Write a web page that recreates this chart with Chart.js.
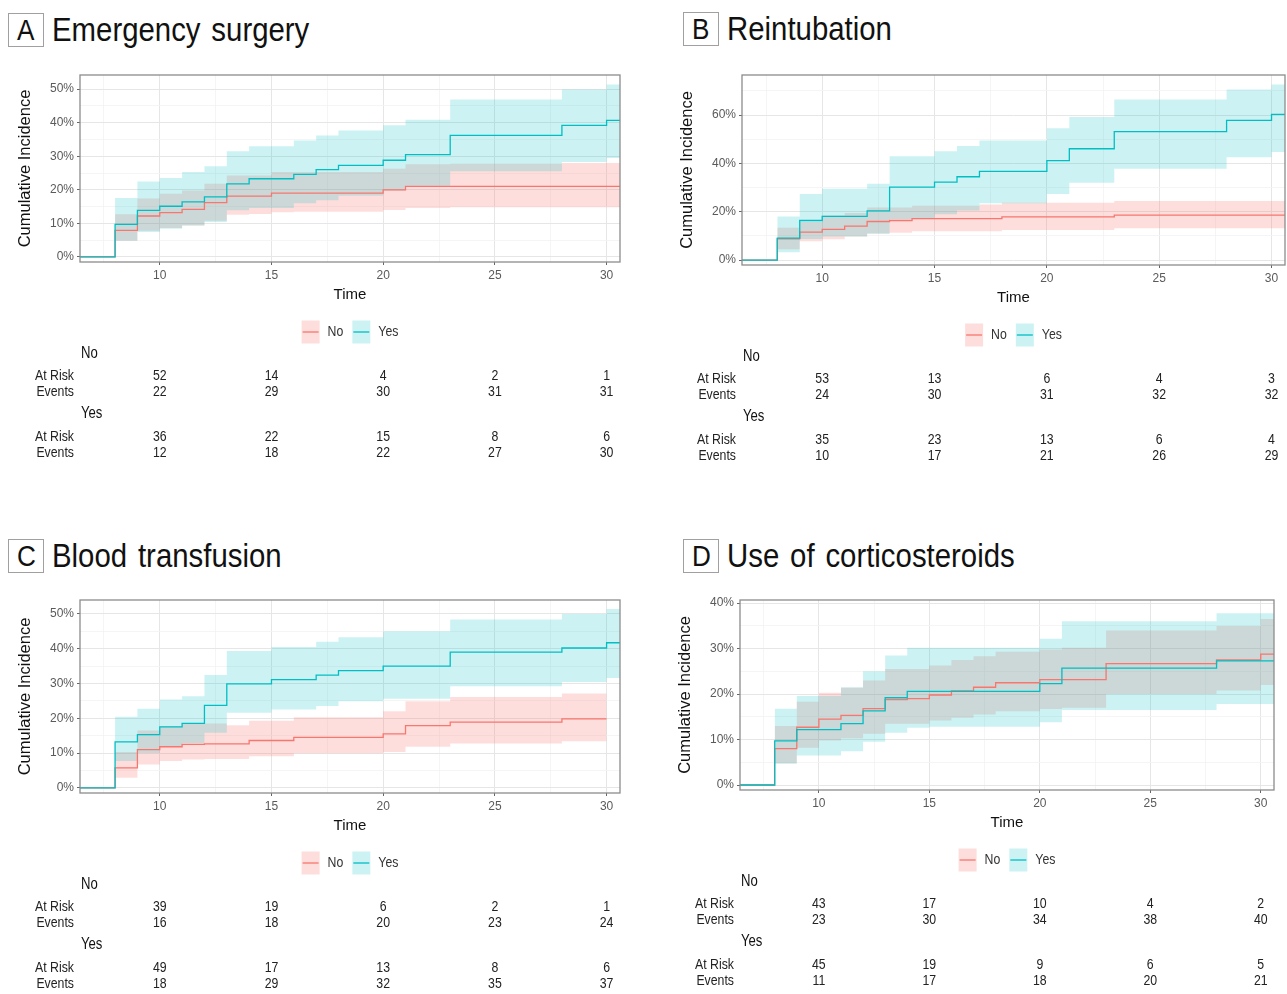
<!DOCTYPE html>
<html>
<head>
<meta charset="utf-8">
<script src="https://cdn.jsdelivr.net/npm/chart.js@4.4.1/dist/chart.umd.min.js"></script>
<style>
  body { margin: 0; background: #fff; width: 1287px; height: 994px; overflow: hidden; position: relative; }
  canvas { position: absolute; }
  .panel-title { position: absolute; display: flex; align-items: center; white-space: pre;
    font-family: 'Liberation Sans', Arial, sans-serif; font-size: 33px; color: #111; }
  .panel-title .tag { box-sizing: border-box; width: 36px; height: 34px; border: 1px solid #a0a0a0;
    display: flex; align-items: center; justify-content: center; margin-right: 8px; font-size: 29px; }
  .panel-title .tag span { display: inline-block; transform: scaleX(0.9); }
  .panel-title .ttl { display: inline-block; transform: scaleX(0.89); transform-origin: left center; word-spacing: 3px; }
</style>
</head>
<body>
<div class="panel-title" style="left:8px;top:11px"><span class="tag"><span>A</span></span><span class="ttl">Emergency surgery</span></div>
<div class="panel-title" style="left:683px;top:10px"><span class="tag"><span>B</span></span><span class="ttl">Reintubation</span></div>
<div class="panel-title" style="left:8px;top:537px"><span class="tag"><span>C</span></span><span class="ttl">Blood transfusion</span></div>
<div class="panel-title" style="left:683px;top:537px"><span class="tag"><span>D</span></span><span class="ttl">Use of corticosteroids</span></div>

<script>
// Event times shared by all curves (values hold until the next time)
const eventTimes = [8, 9, 10, 11, 12, 13, 14, 15, 16, 17, 18, 20, 21, 23, 28, 30];
const riskTimes = [10, 15, 20, 25, 30];
const xMajorTicks = [10, 15, 20, 25, 30];

// A - Emergency surgery (cumulative incidence, %)
const emergNoLine   = [7.9, 12.2, 13.2, 14.2, 16.2, 18.1, 18.1, 19.0, 19.0, 19.0, 19.0, 20.0, 21.0, 21.0, 21.0, 21.0];
const emergNoUpper  = [12.7, 17.4, 18.8, 19.8, 21.8, 24.3, 24.3, 25.3, 25.3, 25.3, 25.3, 26.3, 27.6, 27.8, 28.0, 28.0];
const emergNoLower  = [4.8, 7.8, 8.6, 9.4, 10.8, 12.6, 12.8, 13.3, 13.5, 13.5, 13.5, 14.0, 14.6, 14.8, 14.8, 14.8];
const emergYesLine  = [9.7, 13.9, 15.1, 16.4, 17.9, 21.8, 23.3, 23.3, 24.6, 26.0, 27.3, 28.8, 30.5, 36.2, 39.2, 40.7];
const emergYesUpper = [17.6, 22.5, 23.5, 25.3, 27.0, 31.5, 33.0, 33.0, 34.7, 36.2, 37.7, 39.2, 40.9, 46.9, 49.9, 51.4];
const emergYesLower = [4.8, 7.4, 8.4, 9.4, 10.4, 13.9, 14.6, 14.6, 16.0, 16.9, 18.2, 19.8, 21.2, 25.5, 28.3, 29.5];
const emergNoRisk = [52, 14, 4, 2, 1];
const emergNoEvents = [22, 29, 30, 31, 31];
const emergYesRisk = [36, 22, 15, 8, 6];
const emergYesEvents = [12, 18, 22, 27, 30];
const emergYTicks = [0, 10, 20, 30, 40, 50];

// B - Reintubation
const reintNoLine   = [8.8, 11.6, 12.7, 14.1, 16.0, 16.4, 17.2, 17.2, 17.2, 17.2, 17.9, 17.9, 17.9, 18.6, 18.6, 18.6];
const reintNoUpper  = [13.4, 15.8, 18.5, 19.5, 21.8, 21.8, 22.5, 22.5, 22.5, 23.0, 23.8, 23.8, 23.8, 24.5, 24.5, 24.5];
const reintNoLower  = [4.5, 7.8, 8.7, 9.8, 11.0, 11.3, 12.0, 12.0, 12.0, 12.0, 12.5, 12.5, 12.5, 13.2, 13.2, 13.2];
const reintYesLine  = [9.1, 16.4, 18.1, 18.1, 20.4, 30.2, 30.2, 32.3, 34.5, 36.7, 36.7, 41.2, 46.1, 53.2, 57.8, 60.3];
const reintYesUpper = [18.1, 27.4, 29.5, 29.5, 31.6, 43.0, 43.0, 45.1, 47.2, 49.5, 49.5, 54.6, 59.2, 66.5, 70.6, 72.7];
const reintYesLower = [3.3, 8.8, 9.8, 9.8, 10.9, 17.0, 17.0, 19.0, 20.5, 23.5, 23.5, 27.4, 32.0, 37.8, 42.6, 44.7];
const reintNoRisk = [53, 13, 6, 4, 3];
const reintNoEvents = [24, 30, 31, 32, 32];
const reintYesRisk = [35, 23, 13, 6, 4];
const reintYesEvents = [10, 17, 21, 26, 29];
const reintYTicks = [0, 20, 40, 60];

// C - Blood transfusion
const transNoLine   = [5.7, 11.0, 11.8, 12.5, 12.6, 12.6, 13.6, 13.6, 14.5, 14.5, 14.5, 15.5, 17.9, 18.9, 19.8, 19.8];
const transNoUpper  = [10.3, 16.5, 17.7, 18.5, 18.5, 18.0, 19.3, 19.3, 20.3, 20.3, 20.3, 22.0, 24.9, 26.1, 27.1, 27.1];
const transNoLower  = [2.9, 6.7, 7.7, 8.1, 8.3, 8.3, 9.1, 9.1, 9.9, 9.9, 9.9, 10.3, 11.8, 12.7, 13.4, 13.4];
const transYesLine  = [13.2, 15.3, 17.5, 18.5, 23.7, 29.9, 29.9, 31.1, 31.1, 32.4, 33.7, 35.0, 35.0, 39.0, 40.2, 41.7];
const transYesUpper = [20.4, 22.7, 25.4, 26.3, 32.4, 39.3, 39.3, 40.5, 40.5, 42.0, 43.3, 45.0, 45.0, 48.4, 50.0, 51.4];
const transYesLower = [7.7, 10.0, 12.0, 12.9, 15.8, 21.6, 21.6, 22.5, 22.5, 23.5, 24.9, 25.6, 25.6, 29.2, 30.4, 31.6];
const transNoRisk = [39, 19, 6, 2, 1];
const transNoEvents = [16, 18, 20, 23, 24];
const transYesRisk = [49, 17, 13, 8, 6];
const transYesEvents = [18, 29, 32, 35, 37];
const transYTicks = [0, 10, 20, 30, 40, 50];

// D - Use of corticosteroids
const steroNoLine   = [8.0, 12.7, 14.5, 15.3, 16.8, 18.8, 19.0, 19.8, 20.7, 21.5, 22.5, 23.2, 23.2, 26.7, 27.5, 28.8];
const steroNoUpper  = [13.0, 18.3, 20.3, 21.4, 23.0, 25.5, 25.5, 26.3, 27.5, 28.3, 29.3, 29.8, 30.2, 34.0, 35.0, 36.5];
const steroNoLower  = [4.8, 8.2, 9.8, 10.3, 11.3, 13.5, 13.5, 14.2, 14.8, 15.5, 16.2, 16.7, 17.0, 20.0, 20.8, 22.0];
const steroYesLine  = [9.7, 12.2, 12.2, 13.5, 16.3, 19.2, 20.6, 20.6, 20.6, 20.6, 20.6, 22.3, 25.7, 25.7, 27.3, 27.3];
const steroYesUpper = [16.8, 19.6, 19.6, 21.5, 25.0, 28.5, 30.2, 30.2, 30.2, 30.2, 30.2, 32.2, 36.0, 36.0, 37.8, 37.8];
const steroYesLower = [4.7, 6.5, 6.5, 7.4, 9.5, 11.5, 12.6, 12.8, 12.8, 12.8, 12.8, 13.8, 16.5, 16.5, 17.8, 17.8];
const steroNoRisk = [43, 17, 10, 4, 2];
const steroNoEvents = [23, 30, 34, 38, 40];
const steroYesRisk = [45, 19, 9, 6, 5];
const steroYesEvents = [11, 17, 18, 20, 21];
const steroYTicks = [0, 10, 20, 30, 40];

const FOLLOW_END = 31; // curves continue past the last event to the panel edge

const FONT = "'Liberation Sans', Arial, sans-serif";
const SQUEEZE = 0.82; // the source figure is horizontally compressed
const PINK = '#F8766D';
const TEAL = '#00BFC4';
const PINK_FILL = 'rgba(248,118,109,0.24)';
const TEAL_FILL = 'rgba(0,191,196,0.2)';

// layout of each panel (plot area in page pixels) + its data
const panels = [
    {
        area: { left: 80, top: 75, right: 620, bottom: 262 }, yMin: -1.5, yMax: 54.2, yTicks: emergYTicks,
        no:  { line: emergNoLine, upper: emergNoUpper, lower: emergNoLower, end: FOLLOW_END, risk: emergNoRisk, events: emergNoEvents },
        yes: { line: emergYesLine, upper: emergYesUpper, lower: emergYesLower, end: FOLLOW_END, risk: emergYesRisk, events: emergYesEvents }
    },
    {
        area: { left: 742, top: 75, right: 1285, bottom: 265 }, yMin: -2, yMax: 76.6, yTicks: reintYTicks,
        no:  { line: reintNoLine, upper: reintNoUpper, lower: reintNoLower, end: FOLLOW_END, risk: reintNoRisk, events: reintNoEvents },
        yes: { line: reintYesLine, upper: reintYesUpper, lower: reintYesLower, end: FOLLOW_END, risk: reintYesRisk, events: reintYesEvents }
    },
    {
        area: { left: 80, top: 600, right: 620, bottom: 793 }, yMin: -1.5, yMax: 54, yTicks: transYTicks,
        no:  { line: transNoLine, upper: transNoUpper, lower: transNoLower, end: null, risk: transNoRisk, events: transNoEvents },
        yes: { line: transYesLine, upper: transYesUpper, lower: transYesLower, end: FOLLOW_END, risk: transYesRisk, events: transYesEvents }
    },
    {
        area: { left: 740, top: 600, right: 1274, bottom: 790 }, yMin: -1.1, yMax: 40.7, yTicks: steroYTicks,
        no:  { line: steroNoLine, upper: steroNoUpper, lower: steroNoLower, end: FOLLOW_END, risk: steroNoRisk, events: steroNoEvents },
        yes: { line: steroYesLine, upper: steroYesUpper, lower: steroYesLower, end: FOLLOW_END, risk: steroYesRisk, events: steroYesEvents }
    }
];

function stepPoints(values, end, fromZero) {
    const pts = [];
    if (fromZero) pts.push({ x: 0, y: 0 });
    eventTimes.forEach((t, i) => pts.push({ x: t, y: values[i] }));
    if (end !== null) pts.push({ x: end, y: values[values.length - 1] });
    return pts;
}

// majors plus the half-way minor positions (ggplot style grid)
function withMinor(majors, min, max) {
    const step = majors[1] - majors[0];
    const all = majors.slice();
    all.push(majors[0] - step / 2);
    majors.forEach(v => all.push(v + step / 2));
    return all.filter(v => v >= min && v <= max).sort((a, b) => a - b);
}

// draw text squeezed horizontally like the source figure
function squeezedText(ctx, text, x, y) {
    ctx.save();
    ctx.translate(x, y);
    ctx.scale(SQUEEZE, 1);
    ctx.fillText(text, 0, 0);
    ctx.restore();
}

const kmExtras = {
    id: 'kmExtras',
    afterDraw(chart, args, opts) {
        const { ctx, chartArea: a } = chart;
        const xs = chart.scales.x;
        ctx.save();

        // panel border
        ctx.strokeStyle = '#8c8c8c';
        ctx.lineWidth = 1.3;
        ctx.strokeRect(a.left, a.top, a.right - a.left, a.bottom - a.top);

        // legend
        const legendY = a.bottom + 70;
        const items = [
            { label: 'No', color: PINK, fill: PINK_FILL },
            { label: 'Yes', color: TEAL, fill: TEAL_FILL }
        ];
        ctx.font = '15px ' + FONT;
        const keyW = 18, keyH = 23, gap = 8, itemGap = 9;
        let total = 0;
        items.forEach(it => { it.w = ctx.measureText(it.label).width * SQUEEZE; total += keyW + gap + it.w; });
        total += itemGap;
        let lx = (a.left + a.right) / 2 - total / 2;
        ctx.textBaseline = 'middle';
        ctx.textAlign = 'left';
        items.forEach(it => {
            ctx.fillStyle = it.fill;
            ctx.fillRect(lx, legendY - keyH / 2, keyW, keyH);
            ctx.strokeStyle = it.color;
            ctx.lineWidth = 1.3;
            ctx.beginPath();
            ctx.moveTo(lx + 1, legendY);
            ctx.lineTo(lx + keyW - 1, legendY);
            ctx.stroke();
            ctx.fillStyle = '#333';
            squeezedText(ctx, it.label, lx + keyW + gap, legendY);
            lx += keyW + gap + it.w + itemGap;
        });

        // risk table
        const rows = [
            { head: 'No', dy: 92 },
            { label: 'At Risk', values: opts.no.risk, dy: 114 },
            { label: 'Events', values: opts.no.events, dy: 130 },
            { head: 'Yes', dy: 152 },
            { label: 'At Risk', values: opts.yes.risk, dy: 175 },
            { label: 'Events', values: opts.yes.events, dy: 191 }
        ];
        rows.forEach(r => {
            const y = a.bottom + r.dy;
            if (r.head) {
                ctx.font = '16px ' + FONT;
                ctx.fillStyle = '#111';
                ctx.textAlign = 'left';
                squeezedText(ctx, r.head, a.left + 1, y);
                return;
            }
            ctx.font = '15px ' + FONT;
            ctx.fillStyle = '#222';
            ctx.textAlign = 'right';
            squeezedText(ctx, r.label, a.left - 6, y);
            ctx.textAlign = 'center';
            riskTimes.forEach((t, i) => squeezedText(ctx, String(r.values[i]), xs.getPixelForValue(t), y));
        });
        ctx.restore();
    }
};

panels.forEach(p => {
    const a = p.area;
    const left = a.left - 80;
    const top = a.top - 15;
    const width = a.right - left + 2;
    const height = a.bottom + 200 - top;
    const canvas = document.createElement('canvas');
    canvas.width = width;
    canvas.height = height;
    canvas.style.left = left + 'px';
    canvas.style.top = top + 'px';
    document.body.appendChild(canvas);

    const xMin = 6.43, xMax = 30.6;
    const xTicks = withMinor(xMajorTicks, xMin, xMax);
    const yTicks = withMinor(p.yTicks, p.yMin, p.yMax);
    const isMajorX = v => xMajorTicks.includes(v);
    const isMajorY = v => p.yTicks.includes(v);

    const band = (upper, lower, end, fill, order) => [
        { data: stepPoints(upper, end, false), stepped: true, fill: '+1', backgroundColor: fill,
          borderColor: 'transparent', borderWidth: 0, pointRadius: 0, order: order },
        { data: stepPoints(lower, end, false), stepped: true, fill: false,
          borderColor: 'transparent', borderWidth: 0, pointRadius: 0, order: order }
    ];
    const line = (values, end, color, order) => ({
        data: stepPoints(values, end, true), stepped: true, fill: false,
        borderColor: color, borderWidth: 1.3, pointRadius: 0, order: order
    });

    new Chart(canvas.getContext('2d'), {
        type: 'line',
        data: {
            datasets: [
                ...band(p.no.upper, p.no.lower, p.no.end, PINK_FILL, 4),
                ...band(p.yes.upper, p.yes.lower, p.yes.end, TEAL_FILL, 3),
                line(p.no.line, p.no.end, PINK, 2),
                line(p.yes.line, p.yes.end, TEAL, 1)
            ]
        },
        options: {
            responsive: false,
            animation: false,
            events: [],
            layout: { padding: { left: 0, top: 15, right: 2, bottom: height - 15 - (a.bottom - a.top) - 50 } },
            plugins: {
                legend: { display: false },
                tooltip: { enabled: false },
                kmExtras: { no: p.no, yes: p.yes }
            },
            scales: {
                x: {
                    type: 'linear',
                    min: xMin,
                    max: xMax,
                    afterBuildTicks: scale => { scale.ticks = xTicks.map(v => ({ value: v })); },
                    afterFit: scale => { scale.height = 50; },
                    border: { display: false },
                    grid: {
                        color: c => (c.tick && isMajorX(c.tick.value)) ? '#e6e6e6' : '#f3f3f3',
                        lineWidth: c => (c.tick && isMajorX(c.tick.value)) ? 1 : 0.8,
                        tickColor: c => (c.tick && isMajorX(c.tick.value)) ? '#666' : 'rgba(0,0,0,0)',
                        tickLength: 3
                    },
                    ticks: {
                        autoSkip: false,
                        maxRotation: 0,
                        padding: 3,
                        color: '#5a5a5a',
                        font: { family: FONT, size: 12 },
                        callback: v => isMajorX(v) ? String(v) : ''
                    },
                    title: {
                        display: true,
                        text: 'Time',
                        color: '#111',
                        font: { family: FONT, size: 15 },
                        padding: { top: 0, bottom: 8 }
                    }
                },
                y: {
                    type: 'linear',
                    min: p.yMin,
                    max: p.yMax,
                    afterBuildTicks: scale => { scale.ticks = yTicks.map(v => ({ value: v })); },
                    afterFit: scale => { scale.width = 80; },
                    border: { display: false },
                    grid: {
                        color: c => (c.tick && isMajorY(c.tick.value)) ? '#e6e6e6' : '#f3f3f3',
                        lineWidth: c => (c.tick && isMajorY(c.tick.value)) ? 1 : 0.8,
                        tickColor: c => (c.tick && isMajorY(c.tick.value)) ? '#666' : 'rgba(0,0,0,0)',
                        tickLength: 3
                    },
                    ticks: {
                        autoSkip: false,
                        padding: 3,
                        color: '#5a5a5a',
                        font: { family: FONT, size: 12 },
                        callback: v => isMajorY(v) ? v + '%' : ''
                    },
                    title: {
                        display: true,
                        text: 'Cumulative Incidence',
                        color: '#111',
                        font: { family: FONT, size: 16.5 },
                        padding: { top: 16, bottom: 0 }
                    }
                }
            }
        },
        plugins: [kmExtras]
    });
});
</script>
</body>
</html>
